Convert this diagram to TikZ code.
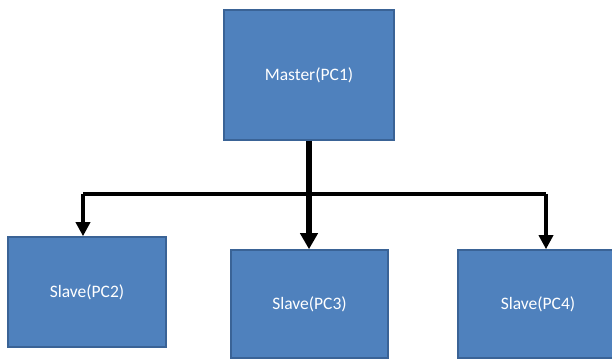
\documentclass[tikz,border=0pt]{standalone}
\usepackage{fontspec}
\setmainfont{Carlito}
\usetikzlibrary{arrows.meta}
\definecolor{boxfill}{HTML}{4F81BD}
\definecolor{boxedge}{HTML}{3A6396}
\tikzset{
  pcbox/.style={rectangle, fill=boxfill, draw=boxedge, line width=1.6pt,
    text=white, font=\fontsize{17.5}{20}\selectfont, inner sep=0pt},
  trunk/.style={line width=5.5pt, -{Triangle[width=17pt,length=16pt]}},
  bus/.style={line width=3.4pt, line join=round},
  branch/.style={line width=3.4pt, line join=round, -{Triangle[width=14pt,length=14pt]}}
}
\begin{document}
\begin{tikzpicture}[x=1pt, y=-1pt]
  \clip (0,0) rectangle (612,360);
  \fill[white] (0,0) rectangle (612,360);

  % master and slave stations
  \node[pcbox, minimum width=170pt, minimum height=130pt] (m)  at (309,75)  {Master(PC1)};
  \node[pcbox, minimum width=158pt, minimum height=110pt] (s2) at (87,292)  {Slave(PC2)};
  \node[pcbox, minimum width=157pt, minimum height=108pt] (s3) at (309.5,304) {Slave(PC3)};
  \node[pcbox, minimum width=160pt, minimum height=108pt] (s4) at (538,304) {Slave(PC4)};

  % bus junction and branch drop points
  \coordinate (j)  at (309,194);
  \coordinate (dl) at (83,194);
  \coordinate (dr) at (546,194);

  % trunk from master straight down to the middle slave
  \draw[trunk] (m.south) -- (m.south |- s3.north);

  % horizontal bus with drops to the outer slaves
  \draw[bus] (dl) -- (dr);
  \draw[branch] (dl) -- (dl |- s2.north);
  \draw[branch] (dr) -- (dr |- s4.north);
\end{tikzpicture}
\end{document}
